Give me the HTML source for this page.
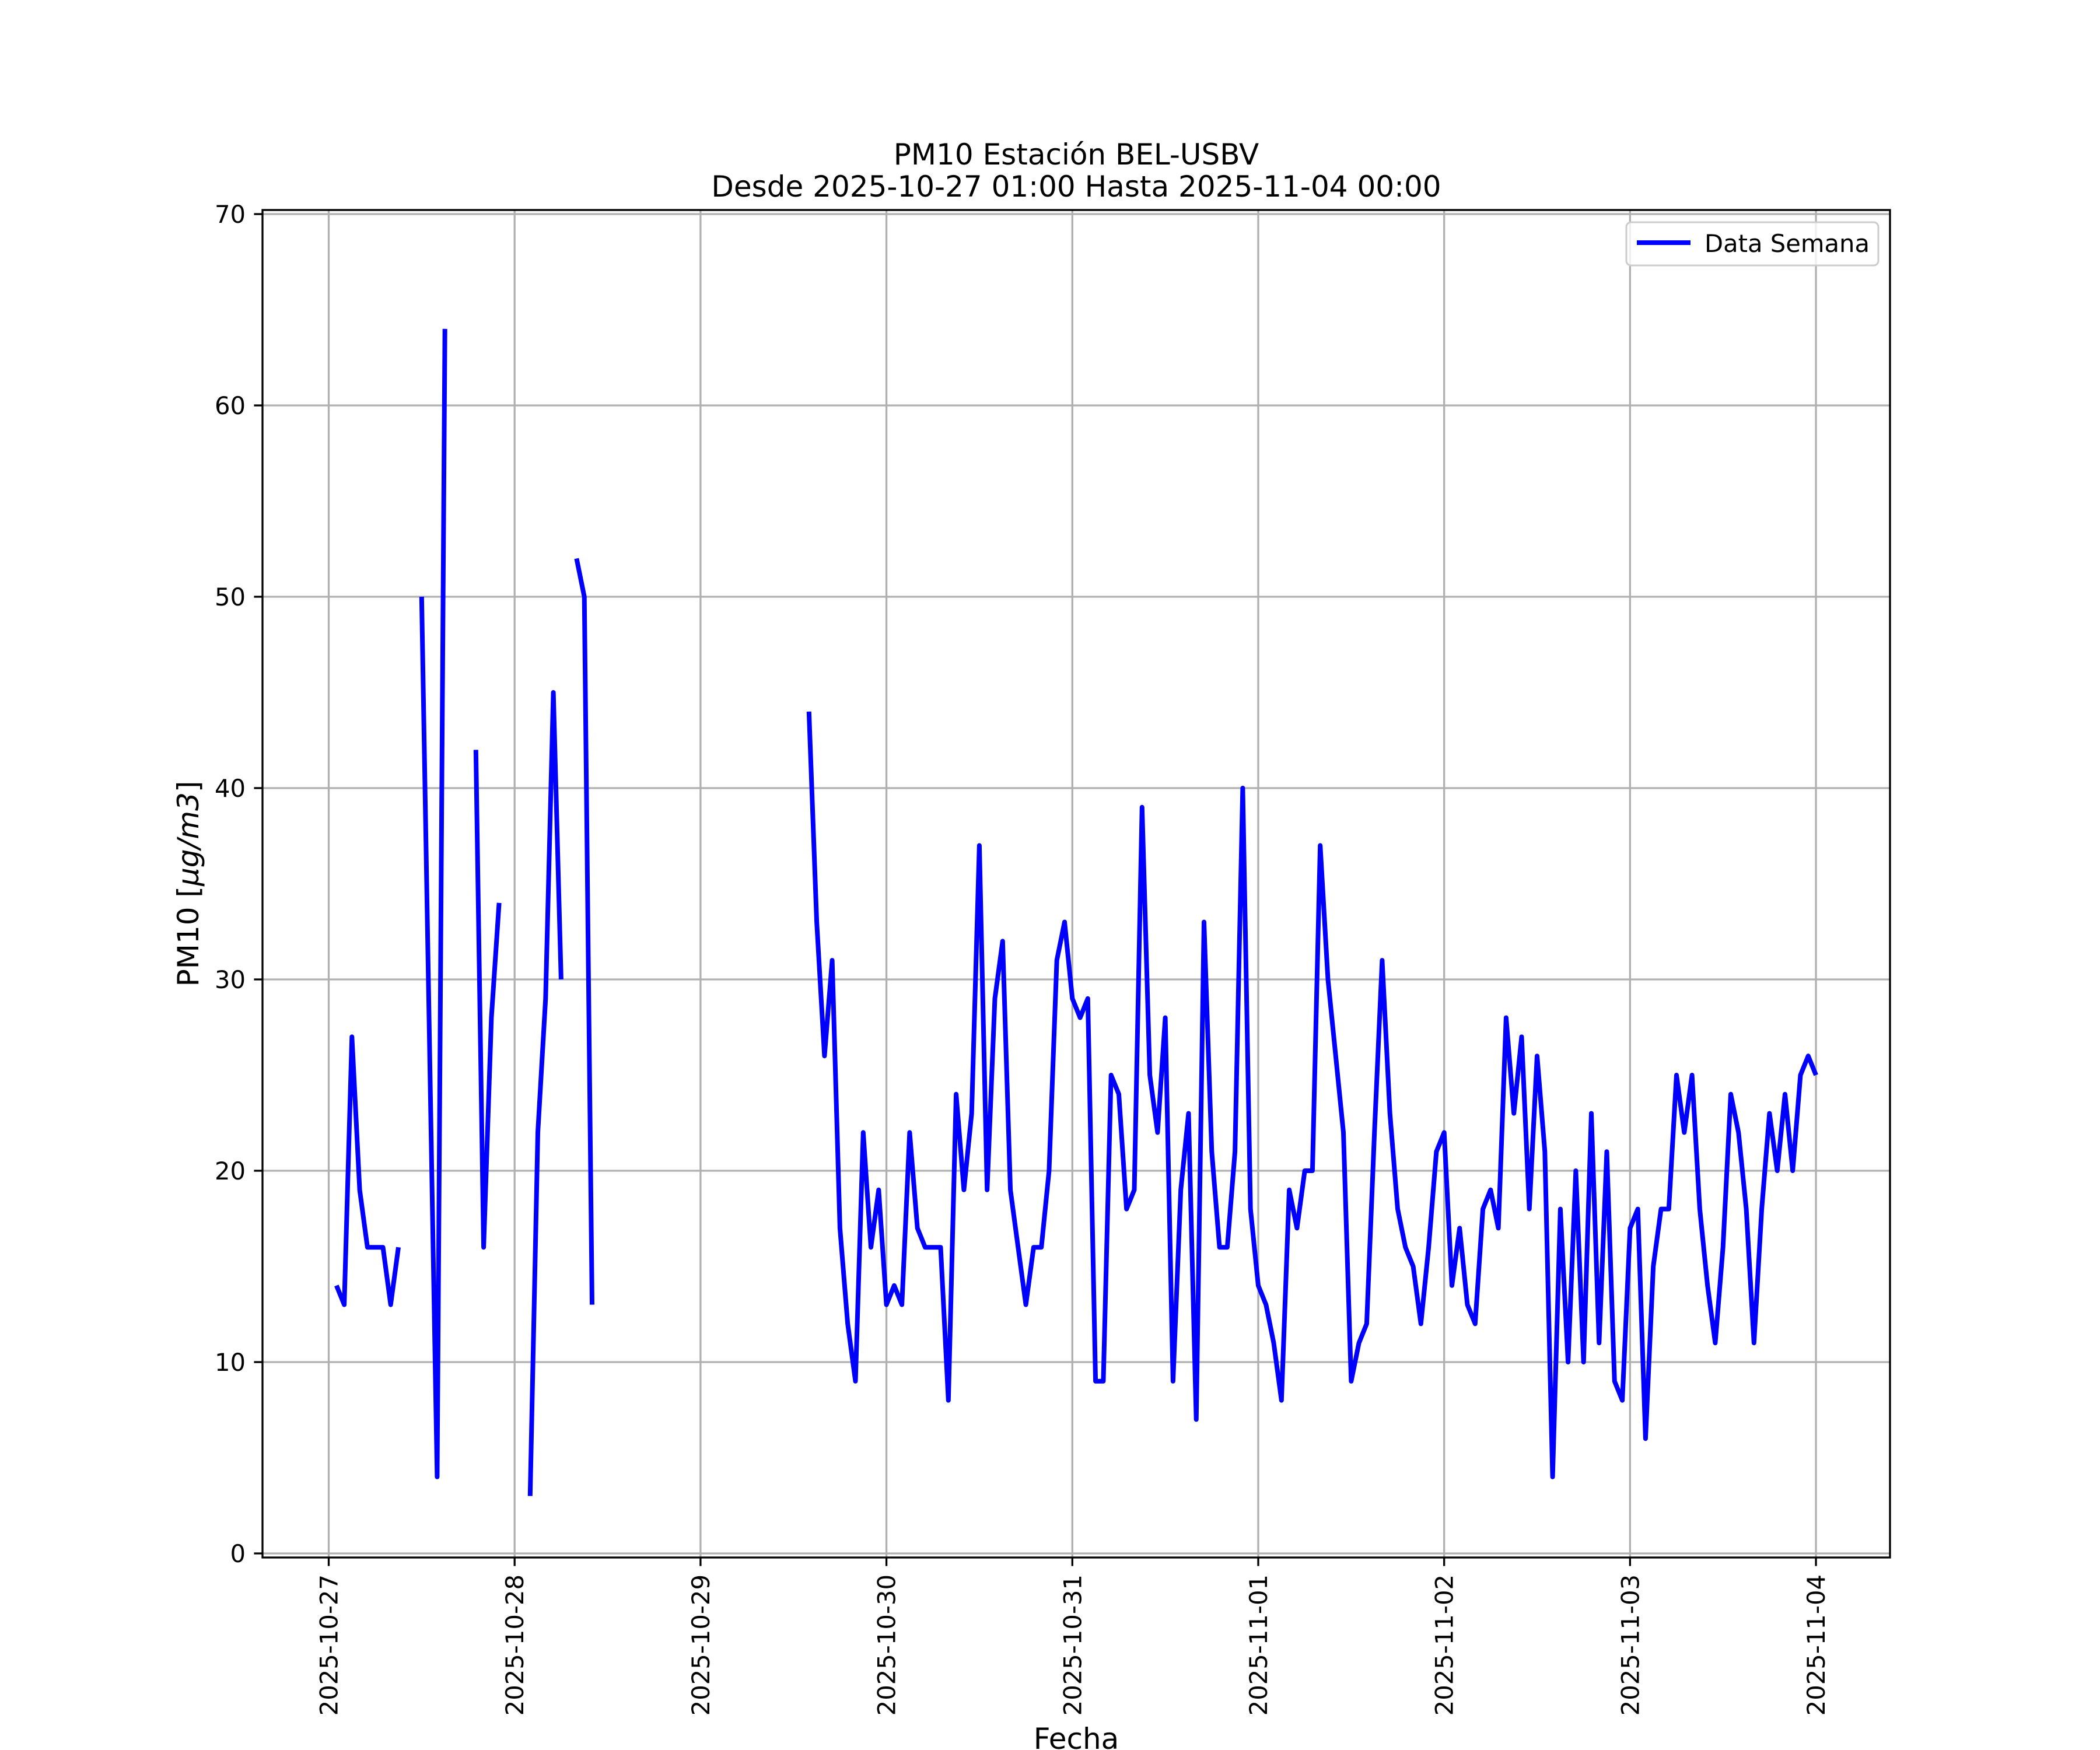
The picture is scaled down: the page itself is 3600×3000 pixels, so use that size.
<!DOCTYPE html>
<html><head><meta charset="utf-8"><style>
html,body{margin:0;padding:0;background:#fff}
svg{display:block;font-family:"DejaVu Sans","Liberation Sans",sans-serif}
</style></head><body>
<svg id="chart" width="3600" height="3000" viewBox="0 0 3600 3000" xmlns="http://www.w3.org/2000/svg">
<rect x="0" y="0" width="3600" height="3000" fill="#fff"/>
<g id="grid"></g>
<g id="series"></g>
<rect x="450" y="360" width="2790" height="2310" fill="none" stroke="#000" stroke-width="3.3"/>
<g id="ticks"></g>
<text x="1845" y="282" font-size="50" text-anchor="middle">PM10 Estación BEL-USBV</text>
<text x="1845" y="337" font-size="50" text-anchor="middle">Desde 2025-10-27 01:00 Hasta 2025-11-04 00:00</text>
<text x="1845" y="2998" font-size="50" text-anchor="middle">Fecha</text>
<text transform="translate(340,1515) rotate(-90)" font-size="50" text-anchor="middle">PM10 [<tspan font-style="italic">μg/m3</tspan>]</text>
<g>
<rect x="2788" y="381" width="432" height="74" rx="8" fill="#fff" fill-opacity="0.8" stroke="#ccc" stroke-width="3"/>
<line x1="2806" y1="416" x2="2898" y2="416" stroke="#0000ff" stroke-width="8"/>
<text x="2922" y="432" font-size="41.7">Data Semana</text>
</g>
</svg>
<script>
const hours = [];
for (let h = 1; h <= 192; h++) hours.push(h);
const pm10 = [14,13,27,19,16,16,16,13,16,null,null,
50,27,4,64,null,null,null,
42,16,28,34,null,null,null,
3,22,29,45,30,null,
52,50,13,
null,null,null,null,null,null,null,null,null,null,null,null,null,null,null,null,null,null,null,null,null,null,null,null,null,null,null,
44,33,26,31,17,12,9,22,16,19,13,14,13,22,17,16,16,16,8,24,19,23,37,19,29,32,19,16,13,16,16,20,31,33,29,28,29,9,9,25,24,18,19,39,25,22,28,9,19,23,7,33,21,16,16,21,40,18,14,13,11,8,19,17,20,20,37,30,26,22,9,11,12,22,31,23,18,16,15,12,16,21,22,14,17,13,12,18,19,17,28,23,27,18,26,21,4,18,10,20,10,23,11,21,9,8,17,18,6,15,18,18,25,22,25,18,14,11,16,24,22,18,11,18,23,20,24,20,25,26,25];
const yTicks = [0,10,20,30,40,50,60,70];
const xTickLabels = ["2025-10-27","2025-10-28","2025-10-29","2025-10-30","2025-10-31","2025-11-01","2025-11-02","2025-11-03","2025-11-04"];

const NS = "http://www.w3.org/2000/svg";
const PX_PER_H = 13.279, X0 = 563.5;
function xScale(h){ return X0 + h*PX_PER_H; }
function yScale(v){ return 2663 - v*(2663-367)/70; }
function mk(tag, attrs, parent){ const e=document.createElementNS(NS,tag); for(const k in attrs) e.setAttribute(k,attrs[k]); parent.appendChild(e); return e; }
const grid=document.getElementById('grid'), ticks=document.getElementById('ticks'), series=document.getElementById('series');

yTicks.forEach(v=>{
  const y=yScale(v);
  const g=mk('line',{x1:450,x2:3240,y1:y,y2:y,stroke:'#b0b0b0','stroke-width':3.3},grid);
  
  
  const t=mk('line',{x1:435.4,x2:450,y1:y,y2:y,stroke:'#000','stroke-width':3.3},ticks);
  
  
  const l=mk('text',{x:421,y:y+15,'font-size':41.7,'text-anchor':'end'},ticks);
  
  
  l.textContent=String(v);
});
xTickLabels.forEach((s,i)=>{
  const x=xScale(i*24);
  const g=mk('line',{x1:x,x2:x,y1:360,y2:2670,stroke:'#b0b0b0','stroke-width':3.3},grid);
  
  
  const t=mk('line',{x1:x,x2:x,y1:2670,y2:2684.6,stroke:'#000','stroke-width':3.3},ticks);
  
  
  const l=mk('text',{transform:`translate(${x+15},2699) rotate(-90)`,'font-size':41.7,'text-anchor':'end'},ticks);
  
  
  l.textContent=s;
});
let d='', pen=false;
hours.forEach((h,i)=>{
  const v=pm10[i];
  if(v===null||v===undefined){pen=false;return;}
  d+=(pen?'L':'M')+xScale(h).toFixed(1)+' '+yScale(v).toFixed(1)+' ';
  pen=true;
});
const p=mk('path',{d:d,fill:'none',stroke:'#0000ff','stroke-width':8,'stroke-linejoin':'round'},series);


</script>
</body></html>
